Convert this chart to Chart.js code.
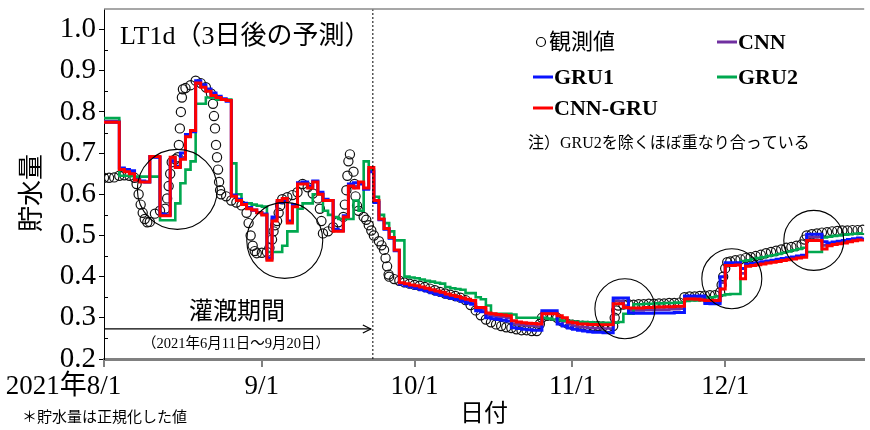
<!DOCTYPE html>
<html>
<head>
<meta charset="utf-8">
<script src="https://cdn.jsdelivr.net/npm/chart.js@4.4.1/dist/chart.umd.min.js"></script>
<style>
  html, body { margin: 0; padding: 0; background: #fff; }
  #wrap { width: 870px; height: 430px; }
</style>
</head>
<body>
<div id="wrap"><canvas id="c" width="870" height="430"></canvas></div>
<script>
// ---- axis labels ----
const tickDays = [0, 31, 61, 92, 122];          // days counted from 2021-08-01
const tickLabels = ['8/1', '9/1', '10/1', '11/1', '12/1'];
const yearPrefix = '2021年';
const yTickValues = [0.2, 0.3, 0.4, 0.5, 0.6, 0.7, 0.8, 0.9, 1.0];
const seriesNames = ['観測値', 'CNN', 'GRU1', 'GRU2', 'CNN-GRU'];

// ---- observed storage (normalised), day offset from 8/1 ----
const obsDay = [
  0, 1, 2, 3, 4, 5, 6, 6.4, 6.8, 7.2, 7.6, 8, 8.5, 9, 10, 11, 12, 12.4, 12.7, 13, 13.3,
  14, 14.5, 14.7, 14.9, 15.1, 15.3, 15.5, 16, 17, 18, 19, 20, 21, 21.4, 21.6, 21.8, 22,
  22.2, 22.4, 22.6, 22.8, 23, 24, 25, 26, 27, 28, 28.4, 28.8, 29.2, 29.6, 30, 31, 32,
  32.5, 33, 33.3, 33.6, 34, 34.3, 34.6, 35, 36, 37, 38, 39, 40, 41, 42, 42.4, 42.7, 43,
  44, 45, 46, 47, 47.3, 47.6, 47.8, 48, 48.3, 49, 49.2, 49.4, 49.7, 50, 51, 51.5, 52,
  52.5, 53, 54, 54.5, 55, 55.3, 55.6, 55.9, 56, 57, 58, 59, 60, 61, 62, 63, 64, 65, 66,
  67, 68, 69, 70, 71, 72, 73, 74, 75, 76, 77, 78, 79, 80, 81, 82, 83, 84, 85, 85.6, 86,
  87, 88, 89, 90, 91, 92, 93, 94, 95, 96, 97, 98, 99, 100, 100.3, 100.6, 101, 102, 103,
  104, 105, 106, 107, 108, 109, 110, 111, 112, 113, 114, 115, 116, 117, 118, 119, 120,
  121, 121.3, 121.6, 122, 122.4, 123, 124, 125, 126, 127, 128, 129, 130, 131, 132, 133,
  134, 135, 136, 137, 137.6, 138, 139, 140, 141, 142, 143, 144, 145, 146, 147, 148, 149
];
const obsVal = [
  0.640, 0.640, 0.641, 0.645, 0.646, 0.645, 0.640, 0.625, 0.600, 0.575, 0.555, 0.540, 0.532, 0.533, 0.553, 0.560, 0.565, 0.590, 0.620, 0.650, 0.678,
  0.685, 0.690, 0.720, 0.760, 0.800, 0.835, 0.855, 0.858, 0.865, 0.876, 0.870, 0.860, 0.845, 0.820, 0.790, 0.760, 0.720,
  0.690, 0.660, 0.630, 0.610, 0.600, 0.595, 0.585, 0.580, 0.573, 0.555, 0.530, 0.500, 0.475, 0.462, 0.457, 0.458, 0.460,
  0.470, 0.490, 0.510, 0.525, 0.535, 0.555, 0.572, 0.588, 0.593, 0.598, 0.605, 0.625, 0.617, 0.602, 0.590, 0.565, 0.535, 0.505,
  0.510, 0.520, 0.532, 0.545, 0.575, 0.610, 0.645, 0.680, 0.697, 0.655, 0.625, 0.595, 0.572, 0.560, 0.545, 0.538, 0.525,
  0.512, 0.500, 0.486, 0.476, 0.465, 0.445, 0.425, 0.405, 0.400, 0.394, 0.390, 0.386, 0.383, 0.380, 0.378, 0.375, 0.371, 0.367, 0.363,
  0.359, 0.356, 0.353, 0.349, 0.343, 0.331, 0.318, 0.306, 0.296, 0.289, 0.284, 0.280, 0.277, 0.275, 0.272, 0.270, 0.270, 0.268, 0.268, 0.285, 0.300,
  0.305, 0.305, 0.300, 0.291, 0.286, 0.283, 0.282, 0.281, 0.280, 0.280, 0.280, 0.279, 0.278, 0.280, 0.300, 0.318, 0.330, 0.332, 0.333,
  0.332, 0.333, 0.333, 0.334, 0.334, 0.335, 0.335, 0.336, 0.336, 0.337, 0.350, 0.352, 0.352, 0.353, 0.354, 0.355, 0.355,
  0.362, 0.380, 0.400, 0.420, 0.435, 0.437, 0.440, 0.442, 0.445, 0.447, 0.450, 0.453, 0.457, 0.460, 0.463, 0.466,
  0.470, 0.472, 0.475, 0.478, 0.490, 0.500, 0.503, 0.505, 0.507, 0.508, 0.510, 0.511, 0.512, 0.512, 0.513, 0.513, 0.514
];

// ---- 3-day-ahead predictions, one value per day from 8/1 ----
const cnn = [
  0.778, 0.778, 0.778, 0.662, 0.657, 0.652, 0.634, 0.631, 0.630, 0.690, 0.690, 0.550, 0.549,
  0.686, 0.667, 0.690, 0.742, 0.753, 0.872, 0.862, 0.852, 0.842, 0.836, 0.831, 0.827,
  0.597, 0.586, 0.576, 0.566, 0.561, 0.555, 0.551,
  0.442, 0.540, 0.583, 0.588, 0.532, 0.572, 0.626, 0.627, 0.617, 0.631, 0.602, 0.586, 0.585, 0.512, 0.511, 0.546, 0.622, 0.620,
  0.628, 0.614, 0.660, 0.583, 0.539, 0.516, 0.494, 0.464, 0.384,
  0.381, 0.378, 0.376, 0.372, 0.369, 0.365, 0.362, 0.359, 0.355, 0.352, 0.349, 0.345,
  0.341, 0.338, 0.322, 0.321, 0.307, 0.305, 0.303, 0.302, 0.300, 0.286, 0.284, 0.282, 0.281, 0.280, 0.279,
  0.313, 0.313, 0.312, 0.296, 0.291, 0.284, 0.281, 0.278, 0.277, 0.276, 0.275, 0.275, 0.274, 0.274,
  0.342, 0.341, 0.330, 0.318, 0.318, 0.318, 0.319, 0.319, 0.320, 0.320, 0.320, 0.321, 0.321, 0.322,
  0.350, 0.350, 0.349, 0.348, 0.338, 0.338, 0.338,
  0.385, 0.430, 0.430, 0.431, 0.408, 0.428, 0.430, 0.432, 0.434, 0.436, 0.438, 0.440, 0.442, 0.444, 0.446, 0.448, 0.450,
  0.496, 0.496, 0.496, 0.476, 0.478, 0.481, 0.483, 0.485, 0.487, 0.489, 0.491, 0.492
];
const gru1 = [
  0.775, 0.775, 0.775, 0.664, 0.660, 0.657, 0.636, 0.632, 0.630, 0.692, 0.690, 0.552, 0.550,
  0.680, 0.668, 0.700, 0.745, 0.752, 0.876, 0.866, 0.856, 0.846, 0.838, 0.832, 0.826,
  0.598, 0.588, 0.578, 0.568, 0.562, 0.556, 0.552,
  0.445, 0.545, 0.580, 0.585, 0.535, 0.575, 0.628, 0.630, 0.620, 0.632, 0.605, 0.588, 0.585, 0.515, 0.512, 0.548, 0.625, 0.628,
  0.625, 0.612, 0.655, 0.580, 0.538, 0.515, 0.493, 0.463, 0.382,
  0.378, 0.375, 0.372, 0.368, 0.365, 0.361, 0.357, 0.354, 0.350, 0.347, 0.344, 0.340,
  0.336, 0.333, 0.317, 0.315, 0.300, 0.298, 0.296, 0.294, 0.292, 0.276, 0.274, 0.272, 0.271, 0.270, 0.270,
  0.317, 0.317, 0.317, 0.285, 0.280, 0.275, 0.272, 0.270, 0.268, 0.266, 0.265, 0.265, 0.264, 0.264,
  0.348, 0.348, 0.348, 0.312, 0.311, 0.311, 0.311, 0.311, 0.312, 0.312, 0.312, 0.312, 0.313, 0.313,
  0.353, 0.353, 0.353, 0.353, 0.335, 0.334, 0.334,
  0.400, 0.434, 0.434, 0.434, 0.420, 0.430, 0.432, 0.434, 0.436, 0.438, 0.440, 0.442, 0.444, 0.446, 0.448, 0.450, 0.452,
  0.503, 0.503, 0.503, 0.485, 0.482, 0.484, 0.486, 0.488, 0.490, 0.492, 0.494, 0.495
];
const gru2 = [
  0.785, 0.785, 0.785, 0.645, 0.645, 0.644, 0.643, 0.643, 0.643, 0.643, 0.643, 0.537, 0.537,
  0.537, 0.578, 0.627, 0.660, 0.680, 0.820, 0.820, 0.835, 0.835, 0.830, 0.830, 0.830,
  0.675, 0.600, 0.578, 0.578, 0.575, 0.572, 0.570,
  0.460, 0.460, 0.460, 0.475, 0.510, 0.510, 0.565, 0.578, 0.578, 0.600, 0.600, 0.560, 0.550, 0.545, 0.540, 0.540, 0.540, 0.585,
  0.560, 0.680, 0.660, 0.594, 0.550, 0.530, 0.510, 0.488, 0.488,
  0.400, 0.398, 0.396, 0.393, 0.390, 0.388, 0.385, 0.383, 0.375, 0.372, 0.370, 0.368,
  0.360, 0.360, 0.350, 0.345, 0.330, 0.310, 0.310, 0.310, 0.310, 0.308, 0.300, 0.300, 0.300, 0.300, 0.300,
  0.300, 0.298, 0.296, 0.295, 0.293, 0.292, 0.291, 0.290, 0.290, 0.289, 0.288, 0.288, 0.288, 0.288,
  0.288, 0.290, 0.310, 0.310, 0.333, 0.333, 0.334, 0.334, 0.335, 0.335, 0.336, 0.336, 0.337, 0.337,
  0.341, 0.342, 0.342, 0.343, 0.350, 0.350, 0.352,
  0.355, 0.357, 0.358, 0.358, 0.438, 0.440, 0.443, 0.445, 0.447, 0.450, 0.452, 0.455, 0.458, 0.461, 0.464, 0.467, 0.470,
  0.460, 0.460, 0.460, 0.495, 0.497, 0.499, 0.500, 0.502, 0.503, 0.504, 0.505, 0.506
];
const cnnGru = [
  0.775, 0.775, 0.775, 0.660, 0.655, 0.650, 0.635, 0.630, 0.630, 0.692, 0.692, 0.548, 0.548,
  0.690, 0.665, 0.685, 0.740, 0.755, 0.870, 0.860, 0.850, 0.840, 0.835, 0.830, 0.828,
  0.595, 0.585, 0.575, 0.565, 0.562, 0.555, 0.550,
  0.440, 0.535, 0.585, 0.590, 0.530, 0.570, 0.625, 0.625, 0.615, 0.630, 0.600, 0.585, 0.585, 0.510, 0.510, 0.545, 0.620, 0.615,
  0.630, 0.615, 0.665, 0.585, 0.540, 0.517, 0.495, 0.465, 0.385,
  0.383, 0.380, 0.378, 0.375, 0.372, 0.368, 0.365, 0.362, 0.358, 0.355, 0.352, 0.348,
  0.345, 0.342, 0.325, 0.325, 0.312, 0.310, 0.308, 0.307, 0.305, 0.293, 0.290, 0.288, 0.287, 0.286, 0.285,
  0.310, 0.310, 0.310, 0.305, 0.300, 0.290, 0.288, 0.285, 0.285, 0.284, 0.284, 0.283, 0.283, 0.283,
  0.334, 0.334, 0.325, 0.324, 0.324, 0.324, 0.325, 0.325, 0.326, 0.326, 0.327, 0.327, 0.328, 0.328,
  0.346, 0.346, 0.345, 0.343, 0.342, 0.342, 0.342,
  0.370, 0.427, 0.427, 0.428, 0.395, 0.425, 0.427, 0.429, 0.431, 0.433, 0.435, 0.437, 0.439, 0.441, 0.443, 0.445, 0.447,
  0.488, 0.488, 0.488, 0.467, 0.475, 0.478, 0.480, 0.482, 0.485, 0.487, 0.489, 0.490
];

// ---- annotations ----
const irrigationEndDay = 52.8;         // dotted line closing the irrigation period
const irrigationArrowLevel = 0.273;
const highlightDay = [14.4, 35.5, 102.3, 123.3, 139.4];
const highlightVal = [0.612, 0.488, 0.322, 0.395, 0.488];

const SERIF = '"Liberation Serif", "Noto Sans CJK JP", serif';
const toPoints = arr => arr.map((v, i) => ({ x: i, y: v }));
const obsPoints = obsDay.map((d, i) => ({ x: d, y: obsVal[i] }));

const stepLine = (label, values, color, width, order) => ({
  label, data: toPoints(values), borderColor: color, backgroundColor: color, borderWidth: width,
  stepped: true, pointRadius: 0, fill: false, order
});

const decor = {
  id: 'decor',
  afterDatasetsDraw(chart, args, opts) {
    const { ctx, chartArea: a, scales: { x, y } } = chart;
    ctx.save();
    // highlight rings
    ctx.strokeStyle = '#000';
    ctx.lineWidth = 1.1;
    highlightDay.forEach((d, i) => {
      ctx.beginPath();
      ctx.arc(x.getPixelForValue(d), y.getPixelForValue(highlightVal[i]), opts.ringRadius[i], 0, Math.PI * 2);
      ctx.stroke();
    });
    // end of irrigation period
    const xe = x.getPixelForValue(irrigationEndDay);
    ctx.setLineDash([2, 2]);
    ctx.lineWidth = 1;
    ctx.beginPath(); ctx.moveTo(xe, a.top); ctx.lineTo(xe, a.bottom); ctx.stroke();
    ctx.setLineDash([]);
    // period arrow
    const ya = y.getPixelForValue(irrigationArrowLevel);
    ctx.lineWidth = 1.2;
    ctx.beginPath(); ctx.moveTo(a.left, ya); ctx.lineTo(xe - 2, ya); ctx.stroke();
    ctx.beginPath(); ctx.moveTo(xe - 10, ya - 4); ctx.lineTo(xe - 2, ya); ctx.lineTo(xe - 10, ya + 4); ctx.stroke();
    ctx.restore();
  },
  afterDraw(chart) {
    const { ctx, chartArea: a, scales: { x, y } } = chart;
    ctx.save();
    // top frame
    ctx.strokeStyle = '#8a8a8a';
    ctx.lineWidth = 1.5;
    ctx.beginPath(); ctx.moveTo(a.left, a.top); ctx.lineTo(a.right, a.top); ctx.stroke();
    // inner minor ticks on the value axis
    ctx.strokeStyle = '#000';
    ctx.lineWidth = 1;
    yTickValues.forEach(v => {
      const py = Math.round(y.getPixelForValue(v + 0.05)) + 0.5;
      if (py > a.top + 1) { ctx.beginPath(); ctx.moveTo(a.left, py); ctx.lineTo(a.left + 4, py); ctx.stroke(); }
    });

    ctx.fillStyle = '#000';
    ctx.textBaseline = 'middle';
    // year in front of the first date label
    const items = x.getLabelItems();
    if (items.length) {
      const it = items[0];
      ctx.font = `27px ${SERIF}`;
      const w = ctx.measureText(it.label).width;
      ctx.textAlign = 'right';
      ctx.textBaseline = it.options.textBaseline;
      ctx.fillText(yearPrefix, it.options.translation[0] - w / 2, it.options.translation[1] + it.textOffset);
      ctx.textBaseline = 'middle';
    }

    // value-axis caption
    ctx.save();
    ctx.translate(33, 193);
    ctx.rotate(-Math.PI / 2);
    ctx.textAlign = 'center';
    ctx.font = `26px ${SERIF}`;
    ctx.fillText('貯水量', 0, 0);
    ctx.restore();

    // panel title
    ctx.textAlign = 'left';
    ctx.font = `26px ${SERIF}`;
    ctx.fillText('LT1d（3日後の予測）', 120, 37);

    // legend
    const ds = chart.data.datasets;
    const colorOf = name => ds.find(d => d.label === name).borderColor;
    ctx.lineWidth = 1.2;
    ctx.beginPath(); ctx.arc(541, 42, 4.5, 0, Math.PI * 2); ctx.stroke();
    ctx.font = `22px ${SERIF}`;
    ctx.fillText(seriesNames[0], 549, 43);
    const entries = [
      [seriesNames[1], 717, 42], [seriesNames[2], 533, 77],
      [seriesNames[3], 717, 77], [seriesNames[4], 533, 108]
    ];
    ctx.font = `bold 22px ${SERIF}`;
    entries.forEach(([name, lx, ly]) => {
      ctx.strokeStyle = colorOf(name);
      ctx.lineWidth = 3;
      ctx.beginPath(); ctx.moveTo(lx, ly); ctx.lineTo(lx + 20, ly); ctx.stroke();
      ctx.fillText(name, lx + 21, ly + 1);
    });
    ctx.font = `16px ${SERIF}`;
    ctx.fillText('注）GRU2を除くほぼ重なり合っている', 528, 144);

    // irrigation period caption
    ctx.textAlign = 'center';
    ctx.font = `24px ${SERIF}`;
    ctx.fillText('灌漑期間', 237, 313);
    ctx.font = `14.5px ${SERIF}`;
    ctx.fillText('（2021年6月11日～9月20日）', 236, 344);

    // footnote
    ctx.textAlign = 'left';
    ctx.font = `15px ${SERIF}`;
    ctx.fillText('＊貯水量は正規化した値', 22, 418);
    ctx.restore();
  }
};

new Chart(document.getElementById('c'), {
  type: 'line',
  data: {
    datasets: [
      stepLine('CNN-GRU', cnnGru, '#ff0000', 3, 1),
      stepLine('GRU1', gru1, '#0a14ff', 3, 2),
      stepLine('GRU2', gru2, '#00a84f', 2.6, 3),
      stepLine('CNN', cnn, '#7030a0', 2.6, 4),
      {
        label: '観測値', data: obsPoints, showLine: false, order: 5,
        pointRadius: 4.6, pointBorderWidth: 1.2, pointBorderColor: '#111',
        pointBackgroundColor: 'rgba(255,255,255,0)', borderColor: '#000'
      }
    ]
  },
  options: {
    responsive: false,
    animation: false,
    devicePixelRatio: 1,
    layout: { padding: { top: 9, right: 0, bottom: 0, left: 0 } },
    plugins: {
      legend: { display: false },
      tooltip: { enabled: false },
      decor: { ringRadius: [40, 38, 30, 30, 30] }
    },
    scales: {
      x: {
        type: 'linear', min: 0, max: 149.3,
        afterBuildTicks: s => { s.ticks = tickDays.map(v => ({ value: v })); },
        afterFit: s => { s.height = 71; s.paddingLeft = 0; s.paddingRight = 0; },
        ticks: {
          autoSkip: false, maxRotation: 0, padding: 4, color: '#000',
          font: { family: SERIF, size: 27 },
          callback: v => { const i = tickDays.indexOf(v); return i >= 0 ? tickLabels[i] : ''; }
        },
        grid: { drawOnChartArea: false, tickLength: 8, color: '#808080', lineWidth: 2 },
        border: { color: '#808080', width: 3 },
        title: { display: true, text: '日付', color: '#000', font: { family: SERIF, size: 24 }, padding: { top: 0, bottom: 1 } }
      },
      y: {
        min: 0.2, max: 1.05,
        afterBuildTicks: s => { s.ticks = yTickValues.map(v => ({ value: v })); },
        afterFit: s => { s.width = 104; s.paddingTop = 0; s.paddingBottom = 0; },
        ticks: {
          padding: 3, color: '#000', font: { family: SERIF, size: 29 },
          callback: v => Number(v).toFixed(1)
        },
        grid: { drawOnChartArea: false, tickLength: 5, color: '#000', lineWidth: 1 },
        border: { color: '#000', width: 1 }
      }
    }
  },
  plugins: [decor]
});
</script>
</body>
</html>
